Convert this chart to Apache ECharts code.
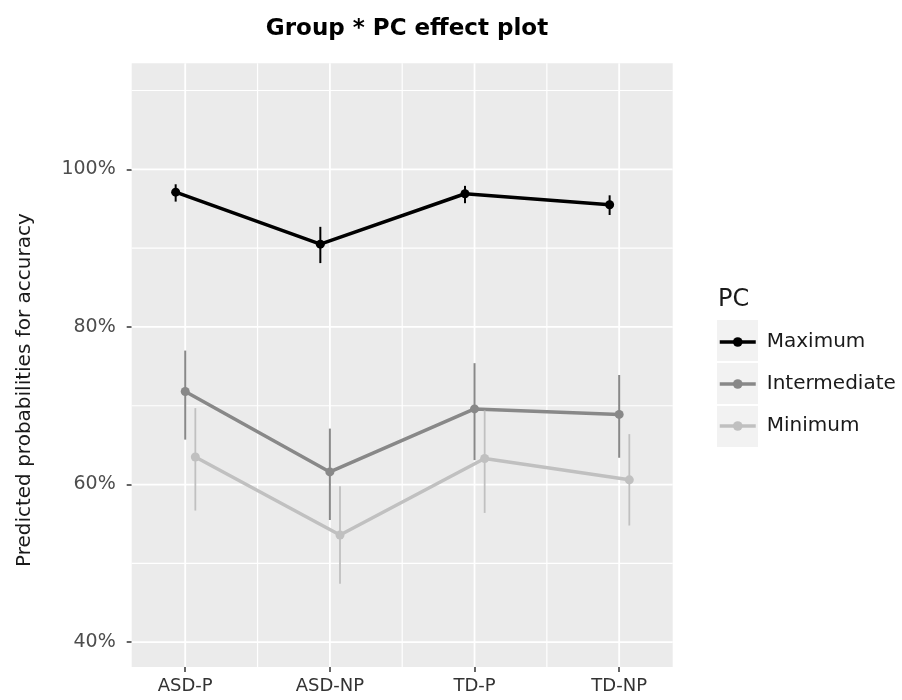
<!DOCTYPE html>
<html>
<head>
<meta charset="utf-8">
<script src="https://cdn.jsdelivr.net/npm/echarts@6/dist/echarts.min.js"></script>
<style>
  html, body { margin: 0; background: #fff; }
  #chart { width: 902px; height: 700px; }
</style>
</head>
<body>
<div id="chart"></div>
<script>
// data (percent)
var groups = ['ASD-P', 'ASD-NP', 'TD-P', 'TD-NP'];
var pcLevels = ['Maximum', 'Intermediate', 'Minimum'];
var yTicks = [40, 60, 80, 100];
var yGrid = [40, 50, 60, 70, 80, 90, 100, 110];
var xGrid = [0, 0.5, 1, 1.5, 2, 2.5, 3];

var maxFit = [97.1, 90.5, 96.9, 95.5];
var maxLower = [95.9, 88.1, 95.7, 94.2];
var maxUpper = [98.1, 92.7, 97.9, 96.7];

var intFit = [71.8, 61.6, 69.6, 68.9];
var intLower = [65.7, 55.5, 63.1, 63.4];
var intUpper = [77.0, 67.1, 75.4, 73.9];

var minFit = [63.5, 53.6, 63.3, 60.6];
var minLower = [56.7, 47.4, 56.4, 54.8];
var minUpper = [69.7, 59.8, 69.4, 66.4];

// styling
var fits = [maxFit, intFit, minFit];
var lowers = [maxLower, intLower, minLower];
var uppers = [maxUpper, intUpper, minUpper];
var colors = ['#000000', '#888888', '#c0c0c0'];
var barWidths = [2, 2, 1.8];
var dodge = [-0.066, 0, 0.07];
var font = 'DejaVu Sans';

function isMajor(v, step) {
    return Math.abs(v / step - Math.round(v / step)) < 1e-6;
}

// panel grid lines, drawn through the axis scales
var series = [{
    type: 'custom',
    silent: true,
    data: xGrid.map(function (v) { return [v]; }),
    renderItem: function (params, api) {
        var cs = params.coordSys;
        var v = api.value(0);
        var x = api.coord([v, yGrid[0]])[0];
        return {
            type: 'line',
            shape: { x1: x, y1: cs.y, x2: x, y2: cs.y + cs.height },
            style: { stroke: '#ffffff', lineWidth: isMajor(v, 1) ? 1.8 : 1.2 }
        };
    },
    z: 1
}, {
    type: 'custom',
    silent: true,
    data: yGrid.map(function (v) { return [v]; }),
    renderItem: function (params, api) {
        var cs = params.coordSys;
        var v = api.value(0);
        var y = api.coord([xGrid[0], v])[1];
        return {
            type: 'line',
            shape: { x1: cs.x, y1: y, x2: cs.x + cs.width, y2: y },
            style: { stroke: '#ffffff', lineWidth: isMajor(v, 20) ? 1.8 : 1.2 }
        };
    },
    encode: { x: -1, y: 0 },
    z: 1
}];

pcLevels.forEach(function (name, k) {
    series.push({
        name: name,
        type: 'line',
        data: groups.map(function (g, i) { return [i + dodge[k], fits[k][i]]; }),
        symbol: 'circle',
        symbolSize: 9,
        lineStyle: { color: colors[k], width: 3.5 },
        itemStyle: { color: colors[k] },
        z: 3 + k
    });
    series.push({
        type: 'custom',
        data: groups.map(function (g, i) { return [i + dodge[k], lowers[k][i], uppers[k][i]]; }),
        renderItem: function (params, api) {
            var p0 = api.coord([api.value(0), api.value(1)]);
            var p1 = api.coord([api.value(0), api.value(2)]);
            return {
                type: 'line',
                shape: { x1: p0[0], y1: p0[1], x2: p1[0], y2: p1[1] },
                style: { stroke: colors[k], lineWidth: barWidths[k] }
            };
        },
        z: 3 + k
    });
});

var chart = echarts.init(document.getElementById('chart'));
chart.setOption({
    animation: false,
    textStyle: { fontFamily: font },
    title: [{
        text: 'Group * PC effect plot',
        left: 402,
        top: 13,
        textAlign: 'center',
        textStyle: { fontFamily: font, fontSize: 23, fontWeight: 'bold', color: '#000' }
    }, {
        text: 'PC',
        left: 713,
        top: 283,
        textStyle: { fontFamily: font, fontSize: 24, fontWeight: 'normal', color: '#1a1a1a' }
    }],
    graphic: pcLevels.map(function (n, k) {
        return { type: 'rect', left: 717, top: 320 + k * 43, shape: { width: 41, height: 41 }, style: { fill: '#f2f2f2' }, z: -1 };
    }),
    legend: {
        orient: 'vertical',
        left: 718,
        top: 332,
        padding: 0,
        itemWidth: 36,
        itemHeight: 12,
        itemGap: 22,
        data: pcLevels,
        lineStyle: { width: 3.5 },
        textStyle: { fontFamily: font, fontSize: 20, color: '#1a1a1a', padding: [0, 0, 0, 6] }
    },
    grid: {
        left: 131.7,
        right: 229.3,
        top: 63.3,
        bottom: 33,
        show: true,
        backgroundColor: '#ebebeb',
        borderWidth: 0
    },
    xAxis: {
        type: 'value',
        min: -0.37,
        max: 3.37,
        axisLine: { show: false, onZero: false },
        splitLine: { show: false },
        axisTick: { customValues: groups.map(function (g, i) { return i; }), length: 5, lineStyle: { color: '#333', width: 1.5 } },
        axisLabel: {
            customValues: groups.map(function (g, i) { return i; }),
            formatter: function (v) { return groups[Math.round(v)]; },
            color: '#333333',
            fontSize: 18,
            margin: 10
        }
    },
    yAxis: {
        type: 'value',
        min: 36.85,
        max: 113.45,
        axisLine: { show: false, onZero: false },
        splitLine: { show: false },
        axisTick: { customValues: yTicks, length: 5, lineStyle: { color: '#333', width: 1.5 } },
        axisLabel: {
            customValues: yTicks,
            formatter: function (v) { return v + '%'; },
            color: '#4d4d4d',
            fontSize: 19,
            margin: 16
        },
        name: 'Predicted probabilities for accuracy',
        nameLocation: 'middle',
        nameGap: 97,
        nameTextStyle: { fontFamily: font, fontSize: 20, color: '#1a1a1a', padding: [0, 50, 0, 0] }
    },
    series: series
});
</script>
</body>
</html>
